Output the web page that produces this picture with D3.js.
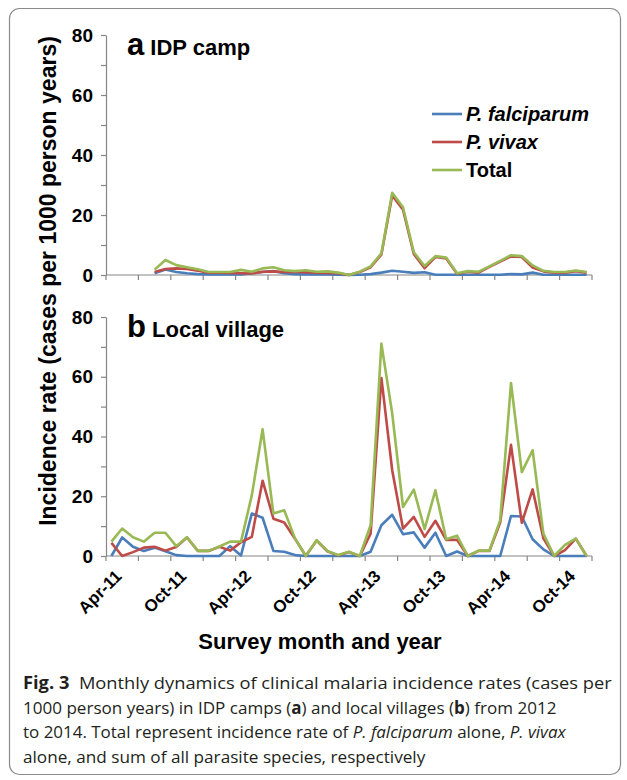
<!DOCTYPE html>
<html>
<head>
<meta charset="utf-8">
<script src="https://cdn.jsdelivr.net/npm/d3@7"></script>
<style>
body { margin: 0; background: #fff; }
svg text { font-family: Arial, "Liberation Sans", sans-serif; }
</style>
</head>
<body>
<script>
// one category per survey month
const months = ["Apr-11","May-11","Jun-11","Jul-11","Aug-11","Sep-11","Oct-11","Nov-11","Dec-11",
  "Jan-12","Feb-12","Mar-12","Apr-12","May-12","Jun-12","Jul-12","Aug-12","Sep-12","Oct-12","Nov-12","Dec-12",
  "Jan-13","Feb-13","Mar-13","Apr-13","May-13","Jun-13","Jul-13","Aug-13","Sep-13","Oct-13","Nov-13","Dec-13",
  "Jan-14","Feb-14","Mar-14","Apr-14","May-14","Jun-14","Jul-14","Aug-14","Sep-14","Oct-14","Nov-14","Dec-14"];
const labelMonths = ["Apr-11","Oct-11","Apr-12","Oct-12","Apr-13","Oct-13","Apr-14","Oct-14"];
const tickMonths = ["Apr-11","Jul-11","Oct-11","Jan-12","Apr-12","Jul-12","Oct-12","Jan-13","Apr-13","Jul-13","Oct-13","Jan-14","Apr-14","Jul-14","Oct-14"];
const yTicks = [0, 20, 40, 60, 80];
const yMinor = [10, 30, 50, 70];

// a: IDP camp (no data before Aug-11)
const campPf = [null,null,null,null, 0.6,1.8,1.0,0.6,0.3,0.2,0.2,0.2,0.2,0.6,1.0,1.3,0.6,0.3,0.2,0.2,0.2,0.1,0,0.1,
  0.3,0.8,1.4,1.1,0.7,0.9,0.1,0.1,0.1,0.1,0.1,0.1,0.1,0.3,0.2,0.8,0.1,0.1,0.1,0.1,0.1];
const campPv = [null,null,null,null, 1.0,2.0,2.2,2.0,1.4,0.8,0.8,0.7,0.6,0.5,1.1,1.2,1.0,1.0,0.9,0.8,0.7,0.6,0,1.0,
  2.6,6.8,26.5,21.8,7.0,2.3,6.0,5.5,0.4,1.1,0.8,2.7,4.5,6.2,6.0,2.5,1.2,0.8,0.8,1.3,0.8];
const campTotal = [null,null,null,null, 1.8,5.0,3.3,2.6,1.9,1.0,1.0,1.0,1.7,1.1,2.2,2.6,1.6,1.3,1.6,1.1,1.2,0.8,0,1.1,
  2.9,7.2,27.4,22.6,7.6,3.0,6.3,5.8,0.6,1.3,1.1,2.9,4.7,6.6,6.3,3.2,1.4,1.0,1.0,1.5,1.0];

// b: local village
const villagePf = [0,6.2,3.1,1.7,2.8,1.6,0.3,0,0,0,0,3.3,0.2,14.2,12.8,1.7,1.4,0.3,0,0,0,0,0,0,
  1.4,10.3,13.8,7.3,7.9,2.8,7.8,0,1.5,0,0,0,0,13.4,13.2,5.6,2.2,0,0,0,0];
const villagePv = [4.4,0,1.3,2.8,3.1,1.8,3.0,6.2,1.7,1.7,3.1,1.8,4.6,6.4,25.2,12.5,11.2,5.8,0,5.2,1.6,0.2,1.3,0,
  7.5,59.6,28.7,9.2,13.1,6.4,11.8,5.4,5.4,0,1.7,1.7,11.2,37.2,11.1,22.3,5.9,0,2.0,5.8,0];
const villageTotal = [4.8,9.2,6.3,4.8,7.8,7.8,3.3,6.3,1.7,1.7,3.2,4.8,4.8,20.3,42.4,14.2,15.3,5.9,0,5.3,1.7,0.3,1.4,0,
  10.3,71.1,47.7,16.4,22.2,9.0,22.0,5.6,6.8,0,1.8,1.8,12.0,57.9,28.1,35.4,7.5,0,3.7,5.8,0];

const seriesNames = ["P. falciparum", "P. vivax", "Total"];
const colors = ["#4a7ebb", "#be4b48", "#98b954"];
const axisGray = "#868686";

const w = 627;
const h = 780;

const svg = d3.select('body').append('svg').attr('width', w).attr('height', h);

svg.append('rect')
   .attr('x', 9.5).attr('y', 8.5)
   .attr('width', 611).attr('height', 766)
   .attr('rx', 10)
   .style('fill', 'none').style('stroke', '#8a8a8a').style('stroke-width', 1.2);

const x = d3.scaleBand().domain(months).range([106, 592]);
const cx = (m) => x(m) + x.bandwidth() / 2;

function panel(yBottom, yTop, data, letter, title) {
  const y = d3.scaleLinear().domain([0, 80]).range([yBottom, yTop]);
  const g = svg.append('g');

  g.append('g')
   .attr('transform', 'translate(106,0)')
   .call(d3.axisLeft(y).tickValues(yMinor).tickSize(5).tickSizeOuter(0).tickFormat(''))
   .call(a => a.select('.domain').remove());

  const ya = g.append('g')
    .attr('transform', 'translate(106,0)')
    .call(d3.axisLeft(y).tickValues(yTicks).tickSize(5).tickSizeOuter(0).tickPadding(8));
  ya.selectAll('text').style('font-size', '19px').style('font-weight', 'bold').style('fill', '#000');
  g.selectAll('.tick line, .domain').style('stroke', axisGray).style('stroke-width', 1.2);

  // x axis: ticks every third month, on the category edges
  g.append('line')
   .attr('x1', 106).attr('x2', 592).attr('y1', yBottom).attr('y2', yBottom)
   .style('stroke', axisGray).style('stroke-width', 1.2);
  g.selectAll('.xtick')
   .data(tickMonths.map(m => x(m)).concat([x.range()[1]]))
   .enter().append('line')
   .attr('x1', d => d).attr('x2', d => d)
   .attr('y1', yBottom).attr('y2', yBottom + 5)
   .style('stroke', axisGray).style('stroke-width', 1.2);

  const line = d3.line()
    .defined(d => d != null)
    .x((d, i) => cx(months[i]))
    .y(d => y(d));

  data.forEach((s, k) => {
    g.append('path')
     .attr('d', line(s))
     .style('fill', 'none')
     .style('stroke', colors[k])
     .style('stroke-width', 2.6)
     .style('stroke-linejoin', 'round');
  });

  const t = g.append('text').attr('x', 127).attr('y', yTop + 20);
  t.append('tspan').text(letter).style('font-size', '31px').style('font-weight', 'bold');
  t.append('tspan').text(' ' + title).style('font-size', '22px').style('font-weight', 'bold');
  return y;
}

panel(275, 35, [campPf, campPv, campTotal], 'a', 'IDP camp');
panel(556, 317, [villagePf, villagePv, villageTotal], 'b', 'Local village');

// legend
const legendY = [114, 142, 170];
seriesNames.forEach((name, k) => {
  svg.append('line')
     .attr('x1', 432).attr('x2', 462).attr('y1', legendY[k]).attr('y2', legendY[k])
     .style('stroke', colors[k]).style('stroke-width', 2.6);
  svg.append('text')
     .attr('x', 466).attr('y', legendY[k]).attr('dy', '0.36em')
     .text(name)
     .style('font-size', '20px').style('font-weight', 'bold')
     .style('font-style', k < 2 ? 'italic' : 'normal');
});

// month labels under panel b
svg.selectAll('.xlabel')
   .data(labelMonths)
   .enter().append('text')
   .attr('transform', d => 'translate(' + (cx(d) + 7) + ',573) rotate(-45)')
   .attr('text-anchor', 'end')
   .attr('dy', '0.35em')
   .text(d => d)
   .style('font-size', '17px').style('font-weight', 'bold');

svg.append('text')
   .attr('x', 320).attr('y', 649)
   .attr('text-anchor', 'middle')
   .text('Survey month and year')
   .style('font-size', '22px').style('font-weight', 'bold');

svg.append('text')
   .attr('transform', 'translate(56,281) rotate(-90)')
   .attr('text-anchor', 'middle')
   .text('Incidence rate (cases per 1000 person years)')
   .style('font-size', '23px').style('font-weight', 'bold');

// caption
const captionLines = [
  [['Fig. 3', 'b'], ['  Monthly dynamics of clinical malaria incidence rates (cases per', '']],
  [['1000 person years) in IDP camps (', ''], ['a', 'b'], [') and local villages (', ''], ['b', 'b'], [') from 2012', '']],
  [['to 2014. Total represent incidence rate of ', ''], ['P. falciparum', 'i'], [' alone, ', ''], ['P. vivax', 'i']],
  [['alone, and sum of all parasite species, respectively', '']]
];
const captionY = [689, 714, 738, 763];
const captionW = [589, 534, 544, 403];
const cap = svg.append('g');
captionLines.forEach((parts, k) => {
  const t = cap.append('text')
    .attr('x', 0).attr('y', 0)
    .attr('xml:space', 'preserve')
    .style('font-family', '"Open Sans", "Noto Sans", sans-serif')
    .style('font-size', '17px')
    .style('fill', '#231f20');
  parts.forEach(p => {
    t.append('tspan').text(p[0])
     .style('font-weight', p[1] === 'b' ? 'bold' : 'normal')
     .style('font-style', p[1] === 'i' ? 'italic' : 'normal');
  });
  // the original face is narrower, so squeeze each line to its measured width
  const sx = captionW[k] / t.node().getBBox().width;
  t.attr('transform', 'translate(23,' + captionY[k] + ') scale(' + sx + ',1)');
});
</script>
</body>
</html>
